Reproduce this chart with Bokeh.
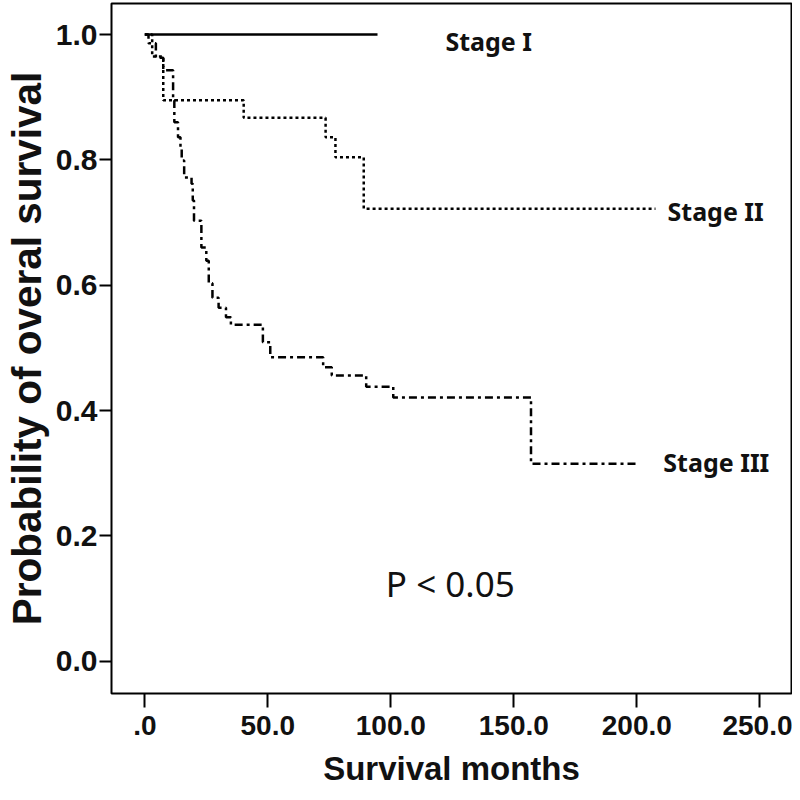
from bokeh.plotting import figure
from bokeh.models import FixedTicker, Range1d, Label
from bokeh.embed import file_html
from bokeh.resources import INLINE

# ---- data ----
stage1_months = [0.0, 94.6]
stage1_surv = [1.0, 1.0]

stage2_months = [0.0, 3.0, 7.5, 40.2, 73.5, 77.5, 89.0, 207.6]
stage2_surv = [1.0, 0.965, 0.895, 0.867, 0.836, 0.804, 0.722, 0.722]

stage3_months = [0.0, 1.5, 4.5, 7.5, 11.5, 12.0, 13.5, 14.5, 15.0, 16.0, 19.0, 19.5,
                 20.0, 23.0, 25.0, 26.0, 27.5, 30.0, 33.0, 35.0, 48.0, 51.0, 72.5,
                 76.0, 90.0, 101.0, 157.0, 201.0]
stage3_surv = [1.0, 0.986, 0.963, 0.943, 0.895, 0.860, 0.836, 0.820, 0.799, 0.772, 0.762,
               0.735, 0.703, 0.660, 0.639, 0.603, 0.580, 0.564, 0.549, 0.537, 0.509,
               0.485, 0.469, 0.456, 0.438, 0.421, 0.315, 0.315]

x_ticks = [0, 50, 100, 150, 200, 250]
x_tick_labels = [".0", "50.0", "100.0", "150.0", "200.0", "250.0"]
y_ticks = [0.0, 0.2, 0.4, 0.6, 0.8, 1.0]
y_tick_labels = ["0.0", "0.2", "0.4", "0.6", "0.8", "1.0"]

series_names = ["Stage I", "Stage II", "Stage III"]

# ---- figure ----
p = figure(width=792, height=792, output_backend="svg", toolbar_location=None,
           x_range=Range1d(-13.54, 262.9), y_range=Range1d(-0.0515, 1.0495),
           min_border_left=111, min_border_right=1, min_border_top=3,
           min_border_bottom=99)
p.background_fill_color = "white"
p.border_fill_color = "white"
p.grid.visible = False
p.outline_line_color = "black"
p.outline_line_width = 2
p.outline_line_alpha = 1.0

p.xaxis.ticker = FixedTicker(ticks=x_ticks)
p.xaxis.major_label_overrides = {t: l for t, l in zip(x_ticks, x_tick_labels)}
p.yaxis.ticker = FixedTicker(ticks=y_ticks)
p.yaxis.major_label_overrides = {t: l for t, l in zip(y_ticks, y_tick_labels)}

for ax in (p.xaxis, p.yaxis):
    ax.axis_line_color = None
    ax.minor_tick_line_color = None
    ax.major_tick_in = 0
    ax.major_tick_line_color = "black"
    ax.major_tick_line_width = 2
    ax.major_label_text_font = "Liberation Sans"
    ax.major_label_text_font_style = "bold"
    ax.major_label_text_color = "#111111"
    ax.axis_label_text_font = "Liberation Sans"
    ax.axis_label_text_font_style = "bold"
    ax.axis_label_text_color = "#111111"

p.xaxis.major_tick_out = 14
p.xaxis.major_label_standoff = 8
p.xaxis.major_label_text_font_size = "28px"
p.xaxis.axis_label = "Survival months"
p.xaxis.axis_label_text_font_size = "33px"
p.xaxis.axis_label_standoff = 12

p.yaxis.major_tick_out = 12
p.yaxis.major_label_standoff = 2
p.yaxis.major_label_text_font_size = "30px"
p.yaxis.axis_label = "Probability of overal survival"
p.yaxis.axis_label_text_font_size = "40.5px"
p.yaxis.axis_label_standoff = 3

# ---- curves ----
p.step(stage1_months, stage1_surv, mode="after", line_color="black", line_width=2.5)
p.step(stage2_months, stage2_surv, mode="after", line_color="black", line_width=2.5,
       line_dash="3 3")
p.step(stage3_months, stage3_surv, mode="after", line_color="black", line_width=2.5,
       line_dash="8 4 3 4")

# ---- annotations ----
label_pos = [(122.2, 0.990), (212.5, 0.719), (210.8, 0.318)]
for name, (lx, ly) in zip(series_names, label_pos):
    p.add_layout(Label(x=lx, y=ly, text=name, text_font="Noto Sans",
                       text_font_style="bold", text_font_size="25px",
                       text_color="#111111", text_baseline="alphabetic"))

p.add_layout(Label(x=98.0, y=0.124, text="P < 0.05", text_font="Noto Sans",
                   text_font_size="35px", text_color="#111111",
                   text_baseline="alphabetic"))

open("out.html", "w").write(file_html(p, INLINE))
